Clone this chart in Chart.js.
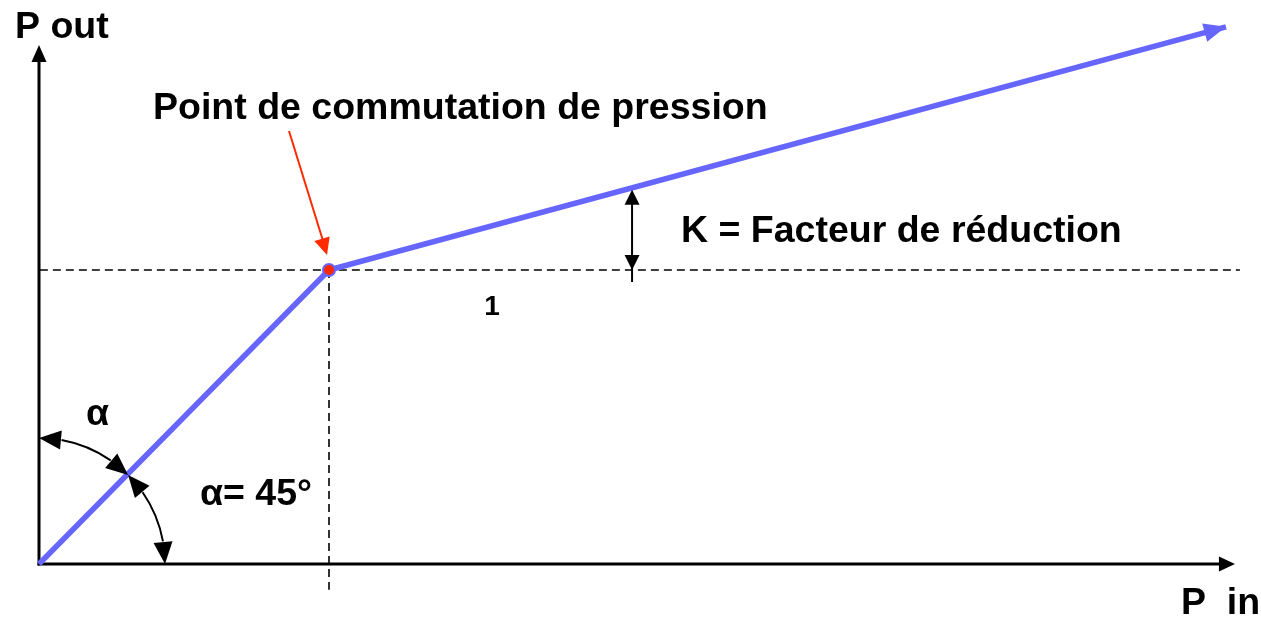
<!DOCTYPE html>
<html lang="fr">

<head>
  <meta charset="UTF-8" />
  <title>Point de commutation de pression</title>
  <script src="https://cdn.jsdelivr.net/npm/chart.js"></script>
  <style>
    html, body { margin: 0; padding: 0; background: #fff; overflow: hidden; }
    canvas { display: block; }
  </style>
</head>

<body>
  <canvas id="canvas_grafico" width="1261" height="617"></canvas>
</body>

</html>
<script>

  // courbe P out = f(P in), le point de commutation est a (1, 1)
  var p_in = [0, 1, 4.093];
  var p_out = [0, 1, 1.827];
  var point_commutation = [1, 1];

  // bouts des axes et des pointilles
  var fin_axe_x = 4.124;
  var fin_axe_y = 1.765;
  var pointille_x = [0.003, 4.141];
  var pointille_y = [1, -0.088];
  var x_facteur_k = 2.045;

  // domaine des echelles (invisibles)
  var x_min = -0.1345, x_max = 4.2138;
  var y_min = -0.1803, y_max = 1.9184;

  // textes
  var titre_y = "P out";
  var titre_x = "P  in";
  var texte_point = "Point de commutation de pression";
  var texte_k = "K = Facteur de réduction";
  var texte_un = "1";
  var texte_alpha = "α";
  var texte_angle = "α= 45°";

  var bleu = "#6666ff";
  var rouge = "#ff2a00";
  var police = "'Liberation Sans', Arial, sans-serif";

  function fleche(ctx, x1, y1, x2, y2, longueur, largeur, couleur) {
    // pointe en (x2, y2), venant de (x1, y1)
    var ang = Math.atan2(y2 - y1, x2 - x1);
    ctx.save();
    ctx.translate(x2, y2);
    ctx.rotate(ang);
    ctx.fillStyle = couleur;
    ctx.beginPath();
    ctx.moveTo(0, 0);
    ctx.lineTo(-longueur, -largeur / 2);
    ctx.lineTo(-longueur, largeur / 2);
    ctx.closePath();
    ctx.fill();
    ctx.restore();
  }

  function trait(ctx, x1, y1, x2, y2, epaisseur, couleur) {
    ctx.save();
    ctx.strokeStyle = couleur;
    ctx.lineWidth = epaisseur;
    ctx.beginPath();
    ctx.moveTo(x1, y1);
    ctx.lineTo(x2, y2);
    ctx.stroke();
    ctx.restore();
  }

  function arc_fleches(ctx, ox, oy, r, a1, a2) {
    // arc entre deux angles, fleche a chaque bout
    var d = 0.18;
    ctx.save();
    ctx.strokeStyle = "#000";
    ctx.lineWidth = 2;
    ctx.beginPath();
    ctx.arc(ox, oy, r, a1 + d, a2 - d);
    ctx.stroke();
    ctx.restore();
    fleche(ctx, ox + r * Math.cos(a1 + d), oy + r * Math.sin(a1 + d), ox + r * Math.cos(a1), oy + r * Math.sin(a1), 22, 19, "#000");
    fleche(ctx, ox + r * Math.cos(a2 - d), oy + r * Math.sin(a2 - d), ox + r * Math.cos(a2), oy + r * Math.sin(a2), 22, 19, "#000");
  }

  var plugin_axes = {
    id: "axes_fleches",
    beforeDatasetsDraw(chart) {
      var ctx = chart.ctx;
      var sx = chart.scales.x, sy = chart.scales.y;
      var ox = sx.getPixelForValue(0), oy = sy.getPixelForValue(0);
      var xt = sx.getPixelForValue(fin_axe_x);
      var yt = sy.getPixelForValue(fin_axe_y);
      trait(ctx, ox - 1.5, oy, xt - 12, oy, 3, "#000");
      fleche(ctx, ox, oy, xt, oy, 16, 15, "#000");
      trait(ctx, ox, oy + 1.5, ox, yt + 12, 3, "#000");
      fleche(ctx, ox, oy, ox, yt, 17, 15, "#000");
    },
    afterDatasetsDraw(chart) {
      var ctx = chart.ctx;
      var sx = chart.scales.x, sy = chart.scales.y;
      var ox = sx.getPixelForValue(0), oy = sy.getPixelForValue(0);

      // fleche au bout de la courbe bleue
      var n = p_in.length - 1;
      fleche(ctx, sx.getPixelForValue(p_in[n - 1]), sy.getPixelForValue(p_out[n - 1]),
        sx.getPixelForValue(p_in[n]), sy.getPixelForValue(p_out[n]), 22, 19, bleu);

      // fleche rouge vers le point de commutation
      var px = sx.getPixelForValue(point_commutation[0]);
      var py = sy.getPixelForValue(point_commutation[1]);
      trait(ctx, px - 40, py - 139, px - 5, py - 26, 2, rouge);
      fleche(ctx, px - 40, py - 139, px - 2, py - 15, 17, 16, rouge);

      // facteur K : double fleche
      var kx = sx.getPixelForValue(x_facteur_k);
      var k_haut = sy.getPixelForValue(1 + (x_facteur_k - 1) * (p_out[2] - p_out[1]) / (p_in[2] - p_in[1]));
      trait(ctx, kx, k_haut + 10, kx, py + 12, 2, "#000");
      fleche(ctx, kx, py, kx, k_haut + 2, 15, 15, "#000");
      fleche(ctx, kx, k_haut, kx, py, 15, 15, "#000");

      // arcs de l'angle alpha
      var r = 126;
      arc_fleches(ctx, ox, oy, r, -Math.PI / 2, -Math.PI / 4);
      arc_fleches(ctx, ox, oy, r, -Math.PI / 4, 0);

      // textes
      ctx.save();
      ctx.fillStyle = "#000";
      ctx.textBaseline = "alphabetic";
      ctx.textAlign = "left";
      ctx.font = "bold 37.5px " + police;
      ctx.fillText(titre_y, 15, 38);
      ctx.fillText(texte_point, 153, 119);
      ctx.fillText(texte_k, 681, 242);
      ctx.fillText(texte_alpha, 86, 425);
      ctx.fillText(texte_angle, 200, 505);
      ctx.fillText(titre_x, 1181, 614);
      ctx.textAlign = "center";
      ctx.font = "bold 28px " + police;
      ctx.fillText(texte_un, 492, 315);
      ctx.restore();
    },
  };

  function criar_grafico() {
    var grafico = document.getElementById("canvas_grafico");
    new Chart(grafico, {
      type: "scatter",
      data: {
        datasets: [
          {
            label: "point",
            data: [{ x: point_commutation[0], y: point_commutation[1] }],
            pointRadius: 6,
            pointBackgroundColor: rouge,
            pointBorderColor: bleu,
            pointBorderWidth: 2,
            showLine: false,
          },
          {
            label: "P out",
            data: p_in.map((v, i) => ({ x: v, y: p_out[i] })),
            showLine: true,
            borderColor: bleu,
            borderWidth: 5.5,
            pointRadius: 0,
            borderJoinStyle: "round",
          },
          {
            label: "horizontale",
            data: pointille_x.map(v => ({ x: v, y: point_commutation[1] })),
            showLine: true,
            borderColor: "#000",
            borderWidth: 1.6,
            borderDash: [8, 5],
            pointRadius: 0,
          },
          {
            label: "verticale",
            data: pointille_y.map(v => ({ x: point_commutation[0], y: v })),
            showLine: true,
            borderColor: "#000",
            borderWidth: 1.6,
            borderDash: [8, 5],
            pointRadius: 0,
          },
        ],
      },
      options: {
        responsive: false,
        animation: false,
        layout: { padding: 0, autoPadding: false },
        plugins: {
          legend: { display: false },
          tooltip: { enabled: false },
        },
        scales: {
          x: { type: "linear", display: false, min: x_min, max: x_max },
          y: { type: "linear", display: false, min: y_min, max: y_max },
        },
      },
      plugins: [plugin_axes],
    });
  }

  criar_grafico();

</script>
